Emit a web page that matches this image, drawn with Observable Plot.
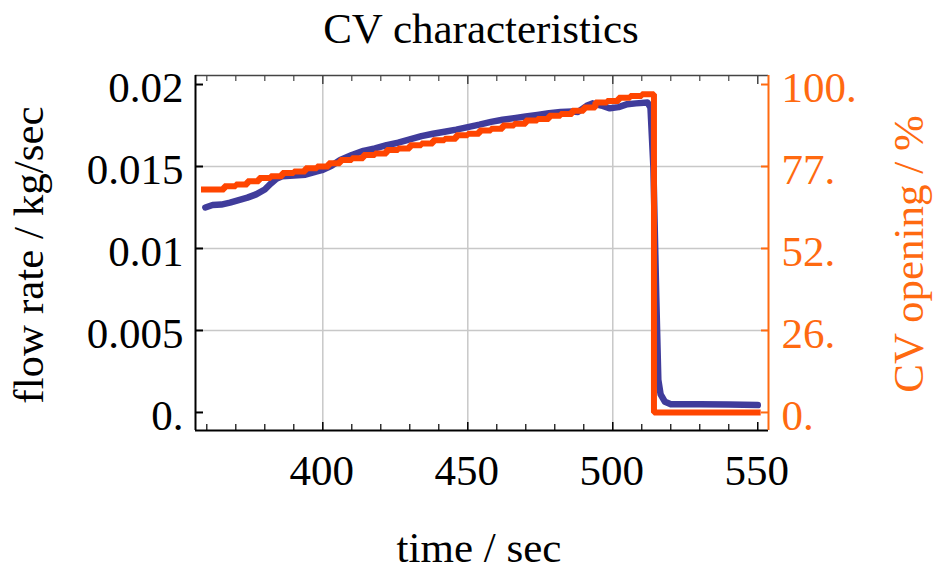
<!DOCTYPE html>
<html><head><meta charset="utf-8">
<script src="https://cdn.jsdelivr.net/npm/d3@7"></script>
<script src="https://cdn.jsdelivr.net/npm/@observablehq/plot@0.6"></script>
<style>
body{margin:0;background:#fff;}
#title{width:946px;height:60px;line-height:57px;font-family:"Liberation Serif","Times New Roman",serif;font-size:43px;color:#000;text-align:center;padding-left:16px;box-sizing:border-box;white-space:nowrap;}
</style></head><body>
<div id="title"></div>
<div id="chart"></div>
<script>
// ---- data ----
const titleText = "CV characteristics";
const xLabel = "time / sec";
const yLabelLeft = "flow rate / kg/sec";
const yLabelRight = "CV opening / %";

const flowTime = [359.5,362,365,368,371,374,377,380,382,384,386,390,394,398,400,403,406,410,414,418,422,426,430,434,438,442,446,450,454,458,462,466,470,474,478,482,486,488,491,493,496,499,502,505,508,512,513,514,515,515.7,516.5,518,520,530,540,550];
const flowRate = [0.0125,0.01265,0.01268,0.0128,0.01295,0.0131,0.0133,0.0136,0.01395,0.01425,0.0144,0.01445,0.0145,0.0147,0.0148,0.01505,0.0154,0.0157,0.01595,0.0161,0.0163,0.01645,0.01665,0.01685,0.017,0.01712,0.01725,0.0174,0.01755,0.01772,0.01785,0.01795,0.01805,0.01815,0.01825,0.01832,0.01835,0.01833,0.0187,0.01885,0.01872,0.01855,0.01862,0.0188,0.01885,0.0189,0.0186,0.015,0.007,0.002,0.0011,0.00065,0.0005,0.0005,0.00049,0.00045];

const cvTime = [358,362,366,370,374,378,382,386,390,394,398,402,406,410,414,418,422,426,430,434,438,442,446,450,454,458,462,466,470,474,478,482,486,490,494,498,502,506,510,514.2,551];
const cvOpening = [68,68,69,69.5,70.5,71.5,72,73,73.5,74.5,75,76,77,77.5,78.5,79,80,80.5,81.5,82,83,83.5,84.5,85,86,86.5,87.5,88,89,89.5,90.5,91,92,93,94.5,95,96,96.5,97,0,0];

const xMajorTicks = [400,450,500,550];
const xMinorTicks = [360,370,380,390,410,420,430,440,460,470,480,490,510,520,530,540];
const xGridTicks = [400,450,500];
const flowTicks = [0,0.005,0.01,0.015,0.02];
const flowTickLabels = ["0.","0.005","0.01","0.015","0.02"];
const flowGridTicks = [0.005,0.01,0.015];
const cvTicks = [0,25,50,75,100];
const cvTickLabels = ["0.","26.","52.","77.","100."];

const xDomain = [356.1,553.7];
const yDomain = [-0.0011,0.02055];
const cvToFlow = 0.02/100;

// ---- styling ----
const blue = "#403c9b";
const orangeLine = "#ff4500";
const orangeAxis = "#ff6a10";
const font = '"Liberation Serif","Times New Roman",serif';
const W = 946, H = 511, mL = 195, mR = 178, mT = 15, mB = 141;
const frameH = H - mT - mB, frameW = W - mL - mR;

document.getElementById("title").textContent = titleText;

const flowData = flowTime.map((t,i)=>({t, v: flowRate[i]}));
const cvData = cvTime.map((t,i)=>({t, v: cvOpening[i]*cvToFlow}));
const cvTickPos = cvTicks.map(c=>c*cvToFlow);

const plot = Plot.plot({
  width: W, height: H,
  marginLeft: mL, marginRight: mR, marginTop: mT, marginBottom: mB,
  style: {fontFamily: font, fontSize: "43px", background: "#fff", color: "#000", overflow: "visible"},
  x: {domain: xDomain, axis: null},
  y: {domain: yDomain, axis: null},
  marks: [
    Plot.ruleX(xGridTicks, {x: d=>d, stroke: "#c8c8c8", strokeWidth: 1.5}),
    Plot.ruleY(flowGridTicks, {y: d=>d, stroke: "#c8c8c8", strokeWidth: 1.5}),
    // inward frame ticks
    Plot.ruleX(xMajorTicks, {x: d=>d, insetTop: frameH-8, stroke: "#000", strokeWidth: 1.5}),
    Plot.ruleX(xMinorTicks, {x: d=>d, insetTop: frameH-6, stroke: "#000", strokeWidth: 1.2}),
    Plot.ruleX(xMajorTicks, {x: d=>d, insetBottom: frameH-9, stroke: "#444", strokeWidth: 1.5}),
    Plot.ruleX(xMinorTicks, {x: d=>d, insetBottom: frameH-6, stroke: "#444", strokeWidth: 1.2}),
    Plot.ruleY(flowTicks, {y: d=>d, insetRight: frameW-8, stroke: "#000", strokeWidth: 2}),
    Plot.ruleY(cvTickPos, {y: d=>d, insetLeft: frameW-7, stroke: orangeAxis, strokeWidth: 2}),
    // data
    Plot.line(flowData, {x: "t", y: "v", stroke: blue, strokeWidth: 6.5, curve: "linear"}),
    Plot.line(cvData, {x: "t", y: "v", stroke: orangeLine, strokeWidth: 6, curve: "step-after", strokeLinejoin: "miter", strokeLinecap: "butt"}),
    // frame
    Plot.ruleY([yDomain[1]], {stroke: "#444", strokeWidth: 1.5}),
    Plot.ruleY([yDomain[0]], {stroke: "#000", strokeWidth: 2}),
    Plot.ruleX([xDomain[0]], {stroke: "#000", strokeWidth: 2}),
    Plot.ruleX([xDomain[1]], {stroke: orangeAxis, strokeWidth: 2}),
    // tick labels
    Plot.text(xMajorTicks, {x: d=>d, frameAnchor: "bottom", textAnchor: "middle", lineAnchor: "middle", dx: -1, dy: 41.2, text: d=>String(d), fill: "#000", fontSize: 43}),
    Plot.text(flowTicks, {y: d=>d, frameAnchor: "left", textAnchor: "end", lineAnchor: "middle", dx: -12, dy: 4.2, text: (d,i)=>flowTickLabels[i], fill: "#000", fontSize: 43}),
    Plot.text(cvTickPos, {y: d=>d, frameAnchor: "right", textAnchor: "start", lineAnchor: "middle", dx: 13, dy: 4.2, text: (d,i)=>cvTickLabels[i], fill: orangeAxis, fontSize: 43}),
    // axis labels
    Plot.text([xLabel], {frameAnchor: "bottom", textAnchor: "middle", lineAnchor: "middle", dx: -3, dy: 118.2, text: d=>d, fill: "#000", fontSize: 43}),
    Plot.text([yLabelLeft], {frameAnchor: "left", textAnchor: "middle", lineAnchor: "middle", dx: -166, dy: 2, rotate: -90, text: d=>d, fill: "#000", fontSize: 43}),
    Plot.text([yLabelRight], {frameAnchor: "right", textAnchor: "middle", lineAnchor: "middle", dx: 141, dy: 1, rotate: -90, text: d=>d, fill: orangeAxis, fontSize: 43})
  ]
});
document.getElementById("chart").appendChild(plot);
</script>
</body></html>
